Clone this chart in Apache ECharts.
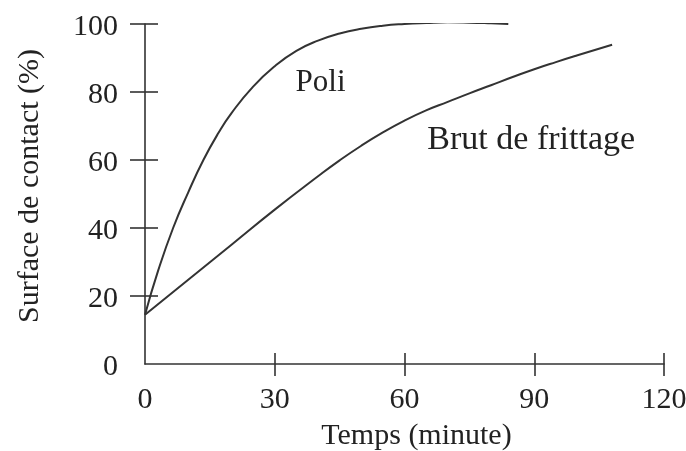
<!DOCTYPE html>
<html>
<head>
<meta charset="utf-8">
<script src="https://cdn.jsdelivr.net/npm/echarts@6/dist/echarts.min.js"></script>
<style>
html,body{margin:0;padding:0;background:#fff;}
#main{width:686px;height:451px;}
</style>
</head>
<body>
<div id="main"></div>
<script>
// ---- data ----
var poliX = [0, 3, 6.5, 10, 13.5, 17, 20, 25, 30, 35, 40, 45, 50, 55, 60, 65, 70, 75, 80, 84];
var poliY = [14.5, 27.3, 40, 50.5, 60, 68, 73.8, 81.6, 87.6, 92.1, 95.1, 97.2, 98.6, 99.5, 100, 100.3, 100.5, 100.4, 100.2, 100];
var brutX = [0, 10, 20, 30, 40, 45, 50, 55, 60, 65, 70, 75, 80, 85, 90, 95, 100, 108];
var brutY = [14.5, 24.8, 35.1, 45.4, 55.2, 59.9, 64.2, 68.1, 71.6, 74.6, 77.1, 79.6, 82.0, 84.4, 86.7, 88.8, 90.8, 93.9];
var xTicks = [0, 30, 60, 90, 120];
var yTicks = [0, 20, 40, 60, 80, 100];
var seriesNames = ['Poli', 'Brut de frittage'];
var labelPos = [[40.6, 82.6], [89.3, 66]];
var xTitle = 'Temps (minute)';
var yTitle = 'Surface de contact (%)';

function pairs(xs, ys) { return xs.map(function (x, i) { return [x, ys[i]]; }); }

var FONT = 'Liberation Serif';
var INK = '#222';
var LINE = '#333';

var chart = echarts.init(document.getElementById('main'), null, {renderer: 'canvas'});
var baseX = {
  type: 'value', min: 0, max: 120, interval: 30, position: 'bottom',
  splitLine: {show: false}
};
var baseY = {
  type: 'value', min: 0, max: 100, interval: 20, position: 'left',
  splitLine: {show: false}
};
chart.setOption({
  animation: false,
  backgroundColor: '#fff',
  grid: {left: 145, right: 22, top: 24, bottom: 87, containLabel: false, outerBoundsMode: 'none'},
  xAxis: [
    Object.assign({}, baseX, {
      name: xTitle, nameLocation: 'middle', nameGap: 57,
      nameTextStyle: {fontFamily: FONT, fontSize: 30, color: INK, padding: [0, 0, 0, 24]},
      axisLine: {show: true, lineStyle: {color: LINE, width: 1.6}},
      axisTick: {show: true, inside: false, length: 12, customValues: xTicks.slice(1), lineStyle: {color: LINE, width: 1.6}},
      axisLabel: {show: true, customValues: xTicks, margin: 21, fontFamily: FONT, fontSize: 30, color: INK}
    }),
    Object.assign({}, baseX, {
      axisLine: {show: false},
      axisTick: {show: true, inside: true, length: 11, customValues: xTicks.slice(1), lineStyle: {color: LINE, width: 1.6}},
      axisLabel: {show: false}
    })
  ],
  yAxis: [
    Object.assign({}, baseY, {
      name: yTitle, nameLocation: 'middle', nameGap: 100, nameRotate: 90,
      nameTextStyle: {fontFamily: FONT, fontSize: 30, color: INK, padding: [0, 0, 0, 16]},
      axisLine: {show: true, lineStyle: {color: LINE, width: 1.6}},
      axisTick: {show: true, inside: false, length: 15, customValues: yTicks.slice(1), lineStyle: {color: LINE, width: 1.6}},
      axisLabel: {show: true, customValues: yTicks, margin: 27, fontFamily: FONT, fontSize: 30, color: INK, verticalAlign: 'top', lineHeight: 7}
    }),
    Object.assign({}, baseY, {
      axisLine: {show: false},
      axisTick: {show: true, inside: true, length: 13, customValues: yTicks.slice(1), lineStyle: {color: LINE, width: 1.6}},
      axisLabel: {show: false}
    })
  ],
  series: [
    {
      name: seriesNames[0], type: 'line', xAxisIndex: 0, yAxisIndex: 0,
      data: pairs(poliX, poliY), smooth: 0.5, showSymbol: false, symbol: 'none',
      lineStyle: {color: LINE, width: 2},
      markPoint: {
        symbol: 'circle', symbolSize: 0, silent: true,
        data: [{coord: labelPos[0], value: seriesNames[0]}],
        label: {show: true, position: 'inside', formatter: seriesNames[0], fontFamily: FONT, fontSize: 31, color: INK}
      }
    },
    {
      name: seriesNames[1], type: 'line', xAxisIndex: 0, yAxisIndex: 0,
      data: pairs(brutX, brutY), smooth: 0.5, showSymbol: false, symbol: 'none',
      lineStyle: {color: LINE, width: 2},
      markPoint: {
        symbol: 'circle', symbolSize: 0, silent: true,
        data: [{coord: labelPos[1], value: seriesNames[1]}],
        label: {show: true, position: 'inside', formatter: seriesNames[1], fontFamily: FONT, fontSize: 34, color: INK}
      }
    }
  ]
});
</script>
</body>
</html>
